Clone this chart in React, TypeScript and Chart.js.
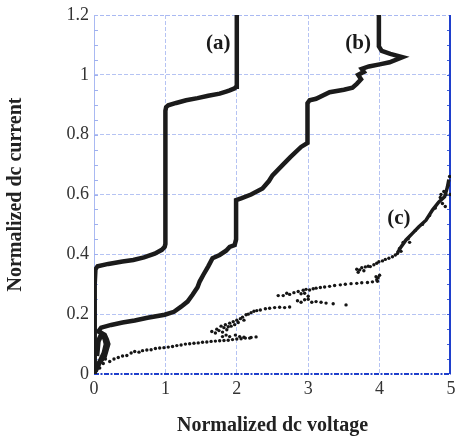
import React, { useEffect, useRef } from "react";
import { Chart, registerables } from "chart.js";

Chart.register(...registerables);

// ---- data ----
const xTickValues = [0, 1, 2, 3, 4, 5];
const yTickValues = [0, 0.2, 0.4, 0.6, 0.8, 1, 1.2];
const yTickLabels = ["0", "0.2", "0.4", "0.6", "0.8", "1", "1.2"];
const xTitle = "Normalized dc voltage";
const yTitle = "Normalized dc current";

const aX = [0, 0.01, 0.01, 0.02, 0.05, 0.2, 0.4, 0.55, 0.7, 0.85, 0.95, 0.99, 1.0, 1.0, 1.01, 1.04, 1.15, 1.29, 1.45, 1.6, 1.76, 1.85, 1.9, 1.97, 1.99, 2.0, 2.0];
const aY = [0, 0.1, 0.3, 0.35, 0.36, 0.368, 0.376, 0.381, 0.39, 0.402, 0.415, 0.425, 0.435, 0.88, 0.892, 0.898, 0.906, 0.915, 0.922, 0.93, 0.937, 0.944, 0.948, 0.955, 0.96, 0.97, 1.2];

const bX = [0, 0.01, 0.05, 0.1, 0.15, 0.2, 0.18, 0.15, 0.1, 0.06, 0.1, 0.24, 0.4, 0.57, 0.75, 0.99, 1.12, 1.22, 1.31, 1.38, 1.45, 1.48, 1.53, 1.6, 1.66, 1.76, 1.85, 1.9, 1.97, 1.99, 1.99, 2.06, 2.2, 2.36, 2.45, 2.5, 2.64, 2.75, 2.9, 2.99, 2.99, 3.02, 3.11, 3.3, 3.5, 3.62, 3.68, 3.74, 3.7, 3.78, 3.75, 3.85, 4.0, 4.14, 4.32, 4.15, 4.03, 3.99, 3.99];
const bY = [0, 0.009, 0.03, 0.045, 0.059, 0.1, 0.115, 0.131, 0.138, 0.142, 0.155, 0.164, 0.172, 0.179, 0.188, 0.198, 0.208, 0.225, 0.242, 0.265, 0.29, 0.309, 0.331, 0.36, 0.387, 0.398, 0.412, 0.425, 0.431, 0.45, 0.581, 0.587, 0.6, 0.62, 0.645, 0.664, 0.698, 0.725, 0.759, 0.772, 0.905, 0.915, 0.92, 0.942, 0.95, 0.957, 0.97, 0.985, 1.0, 1.01, 1.02, 1.028, 1.035, 1.042, 1.059, 1.07, 1.08, 1.095, 1.2];

// thick blob of curve (b) near the origin
const bBlobX = [0.02, 0.06, 0.1, 0.14, 0.17, 0.15, 0.1, 0.06, 0.04];
const bBlobY = [0.01, 0.03, 0.05, 0.07, 0.1, 0.12, 0.13, 0.11, 0.06];

const cX = [
  0.03, 0.05, 0.08, 0.1, 0.13, 0.16, 0.22, 0.28, 0.34, 0.4, 0.46, 0.52, 0.57, 0.63, 0.68, 0.74, 0.8, 0.86, 0.92, 0.98,
  1.04, 1.1, 1.16, 1.22, 1.28, 1.34, 1.4, 1.46, 1.52, 1.58, 1.64, 1.7, 1.76, 1.82, 1.88, 1.94, 2.0, 2.06, 2.12, 2.2, 2.27,
  1.65, 1.7, 1.72, 1.75, 1.78, 1.8, 1.82, 1.84, 1.86, 1.88, 1.9, 1.92, 1.95, 1.97, 2.0, 2.02, 2.05, 2.08, 2.1, 2.13, 2.16,
  2.2, 2.24, 2.28, 2.33, 2.4, 2.46, 2.53, 2.6, 2.67, 2.74, 1.98, 2.04, 2.1, 2.18, 1.85, 1.9, 1.8,
  2.58, 2.65, 2.7, 2.74, 2.8, 2.86, 2.9, 2.93, 2.97, 3.02, 3.07, 3.11, 3.17, 3.23, 3.3, 3.37, 3.45, 3.52, 3.6, 3.68, 3.75,
  3.83, 3.9, 3.96, 3.98, 3.95, 4.0, 3.97, 2.85, 2.9, 2.95, 3.0, 3.05, 3.11, 3.18, 3.25, 3.35, 3.53, 2.95, 3.0,
  3.68, 3.7, 3.72, 3.75, 3.78, 3.8, 3.84, 3.87, 3.92, 3.96, 3.99, 4.04, 4.08, 4.13, 4.18, 4.22, 4.25,
  4.28, 4.3, 4.33, 4.4, 4.42, 4.5, 4.6, 4.7, 4.78, 4.85, 4.88, 4.9, 4.93, 4.96, 4.98, 4.99, 4.92, 4.86
];
const cY = [
  0.01, 0.03, 0.02, 0.045, 0.035, 0.05, 0.042, 0.05, 0.055, 0.06, 0.062, 0.07, 0.075, 0.073, 0.078, 0.08, 0.081, 0.085, 0.087, 0.088,
  0.09, 0.092, 0.095, 0.097, 0.1, 0.101, 0.103, 0.104, 0.106, 0.107, 0.109, 0.11, 0.111, 0.112, 0.113, 0.115, 0.117, 0.118, 0.12, 0.122, 0.124,
  0.142, 0.137, 0.15, 0.145, 0.16, 0.14, 0.155, 0.165, 0.148, 0.158, 0.17, 0.16, 0.175, 0.165, 0.18, 0.172, 0.185, 0.19, 0.18, 0.198, 0.2,
  0.205, 0.21, 0.212, 0.214, 0.218, 0.22, 0.222, 0.223, 0.222, 0.224, 0.13, 0.125, 0.123, 0.12, 0.13, 0.125, 0.125,
  0.262, 0.262, 0.27, 0.266, 0.272, 0.276, 0.268, 0.28, 0.283, 0.281, 0.285, 0.287, 0.289, 0.291, 0.293, 0.296, 0.298, 0.3, 0.302, 0.303, 0.305,
  0.306, 0.308, 0.315, 0.322, 0.325, 0.33, 0.31, 0.245, 0.24, 0.248, 0.25, 0.24, 0.242, 0.24, 0.237, 0.235, 0.231, 0.27, 0.26,
  0.35, 0.34, 0.348, 0.355, 0.345, 0.358, 0.36, 0.359, 0.365, 0.37, 0.375, 0.378, 0.383, 0.387, 0.392, 0.398, 0.403,
  0.42, 0.41, 0.44, 0.452, 0.44, 0.48, 0.5, 0.53, 0.555, 0.59, 0.57, 0.61, 0.6, 0.63, 0.66, 0.6, 0.56, 0.6
];
const cBandX = [4.25, 4.3, 4.37, 4.46, 4.55, 4.65, 4.74, 4.83, 4.91, 4.95, 4.97];
const cBandY = [0.405, 0.425, 0.448, 0.47, 0.492, 0.514, 0.548, 0.575, 0.592, 0.625, 0.65];

const curveLabels = ["(a)", "(b)", "(c)"];
const labelX = [1.74, 3.7, 4.27];
const labelY = [1.103, 1.103, 0.518];

const FONT = "'Liberation Serif', 'Times New Roman', serif";
const pts = (xs: number[], ys: number[]) => xs.map((x, i) => ({ x, y: ys[i] }));

const framePlugin = {
  id: "frame",
  beforeDatasetsDraw(chart: any) {
    const { ctx, chartArea: ca, scales } = chart;
    const ys = scales.y;
    ctx.save();
    ctx.strokeStyle = "#a9b9f2";
    ctx.lineWidth = 1;
    ctx.setLineDash([4, 2]);
    ctx.beginPath();
    ctx.moveTo(ca.left, ca.top + 0.5);
    ctx.lineTo(ca.right, ca.top + 0.5);
    ctx.stroke();
    ctx.setLineDash([]);
    ctx.strokeStyle = "#a9b9f2";
    ctx.beginPath();
    ctx.moveTo(ca.left + 0.5, ca.top);
    ctx.lineTo(ca.left + 0.5, ca.bottom);
    ctx.stroke();
    for (let v = 0.05; v < 1.2; v += 0.05) {
      const py = Math.round(ys.getPixelForValue(v)) + 0.5;
      ctx.strokeStyle = "#9fb0ee";
      ctx.beginPath();
      ctx.moveTo(ca.left, py);
      ctx.lineTo(ca.left + 4, py);
      ctx.stroke();
      ctx.strokeStyle = "#3f5fd8";
      ctx.beginPath();
      ctx.moveTo(ca.right - 4, py);
      ctx.lineTo(ca.right, py);
      ctx.stroke();
    }
    ctx.strokeStyle = "#1f3fcc";
    ctx.lineWidth = 2;
    ctx.beginPath();
    ctx.moveTo(ca.right - 1, ca.top);
    ctx.lineTo(ca.right - 1, ca.bottom);
    ctx.stroke();
    ctx.lineWidth = 2;
    ctx.setLineDash([5, 1.5, 2, 1.5]);
    ctx.beginPath();
    ctx.moveTo(ca.left, ca.bottom);
    ctx.lineTo(ca.right, ca.bottom);
    ctx.stroke();
    ctx.restore();
  },
  afterDatasetsDraw(chart: any) {
    const { ctx, scales } = chart;
    ctx.save();
    ctx.fillStyle = "#1a1a1a";
    ctx.font = `bold 21px ${FONT}`;
    ctx.textAlign = "center";
    ctx.textBaseline = "middle";
    curveLabels.forEach((t, i) => {
      ctx.fillText(t, scales.x.getPixelForValue(labelX[i]), scales.y.getPixelForValue(labelY[i]));
    });
    ctx.restore();
  },
};

export default function App() {
  const ref = useRef<HTMLCanvasElement>(null);
  useEffect(() => {
    if (!ref.current) return;
    const lineDs = (label: string, data: any[], w: number) => ({
      label,
      data,
      showLine: true,
      borderColor: "#1b1b1b",
      backgroundColor: "#1b1b1b",
      borderWidth: w,
      pointRadius: 0,
      tension: 0,
      borderJoinStyle: "miter" as const,
      borderCapStyle: "butt" as const,
    });
    const chart = new Chart(ref.current, {
      type: "scatter",
      data: {
        datasets: [
          lineDs("a", pts(aX, aY), 4.5),
          lineDs("b", pts(bX, bY), 4.5),
          lineDs("b blob", pts(bBlobX, bBlobY), 5),
          {
            label: "c band",
            data: pts(cBandX, cBandY),
            showLine: true,
            borderColor: "#1b1b1b",
            borderWidth: 3.5,
            pointRadius: 0,
          },
          {
            label: "c",
            data: pts(cX, cY),
            showLine: false,
            pointRadius: 1.7,
            pointBorderWidth: 0,
            backgroundColor: "#151515",
            borderColor: "#151515",
          },
        ],
      },
      options: {
        animation: false,
        responsive: false,
        layout: { padding: { top: 15, right: 3, left: 0, bottom: 0 } },
        plugins: { legend: { display: false }, tooltip: { enabled: false } },
        scales: {
          x: {
            type: "linear",
            min: 0,
            max: 5,
            afterBuildTicks: (s: any) => {
              s.ticks = xTickValues.map((v) => ({ value: v }));
            },
            afterFit: (s: any) => {
              s.height = 64;
              s.paddingLeft = 0;
              s.paddingRight = 0;
            },
            ticks: {
              color: "#333",
              font: { family: FONT, size: 18 },
              padding: 4,
              maxRotation: 0,
              callback: (v: any) => String(v),
            },
            grid: {
              color: (c: any) => (c.tick && (c.tick.value === 0 || c.tick.value === 5) ? "rgba(0,0,0,0)" : "#b5c3f3"),
              lineWidth: 1,
              drawTicks: false,
            },
            border: { display: false, dash: [4, 2] },
            title: {
              display: true,
              text: xTitle,
              color: "#222",
              font: { family: FONT, size: 20, weight: "bold" },
              padding: { top: 12, bottom: 0 },
            },
          },
          y: {
            type: "linear",
            min: 0,
            max: 1.2,
            afterBuildTicks: (s: any) => {
              s.ticks = yTickValues.map((v) => ({ value: v }));
            },
            afterFit: (s: any) => {
              s.width = 94;
              s.paddingTop = 0;
              s.paddingBottom = 0;
            },
            ticks: {
              color: "#333",
              font: { family: FONT, size: 18 },
              padding: 5,
              callback: (v: any) => {
                const i = yTickValues.findIndex((t) => Math.abs(t - v) < 1e-6);
                return i >= 0 ? yTickLabels[i] : "";
              },
            },
            grid: {
              color: (c: any) => (c.tick && (c.tick.value === 0 || c.tick.value === 1.2) ? "rgba(0,0,0,0)" : "#b5c3f3"),
              lineWidth: 1,
              drawTicks: false,
            },
            border: { display: false, dash: [4, 2] },
            title: {
              display: true,
              text: yTitle,
              color: "#222",
              font: { family: FONT, size: 20, weight: "bold" },
              padding: { top: 4, bottom: 0 },
            },
          },
        },
      },
      plugins: [framePlugin],
    });
    return () => chart.destroy();
  }, []);
  return (
    <div style={{ position: "absolute", left: 0, top: 0, width: 455, height: 438, background: "#fff" }}>
      <canvas ref={ref} width={455} height={438} />
    </div>
  );
}
